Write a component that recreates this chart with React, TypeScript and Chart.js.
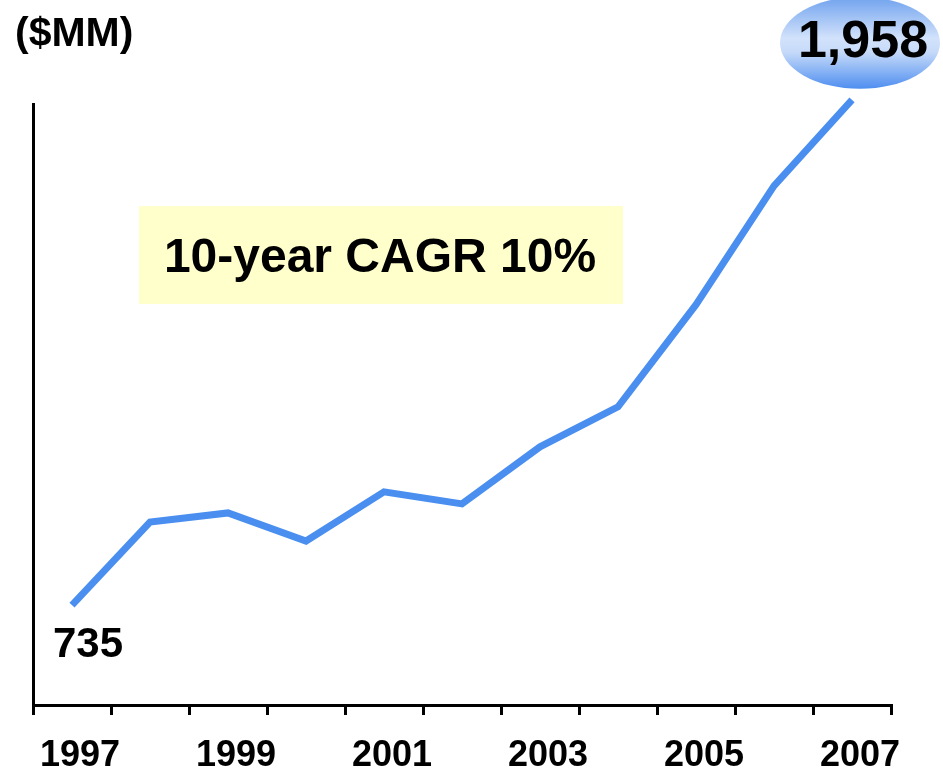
import React, { useEffect, useRef } from 'react';
import { Chart, registerables } from 'chart.js';

Chart.register(...registerables);

const years = ['1997', '1998', '1999', '2000', '2001', '2002', '2003', '2004', '2005', '2006', '2007'];
const revenue = [735, 936, 958, 890, 1009, 980, 1118, 1215, 1462, 1750, 1958];
const unitLabel = '($MM)';
const cagrLabel = '10-year CAGR 10%';

const FONT = '"Liberation Sans", Arial, Helvetica, sans-serif';
const LINE_COLOR = '#4A8FF0';

const annotations = {
  id: 'annotations',
  beforeDatasetsDraw(chart: any) {
    const ctx = chart.ctx;
    ctx.save();
    ctx.fillStyle = '#FFFFCC';
    ctx.fillRect(139, 206, 484, 98);
    ctx.restore();
  },
  afterDraw(chart: any) {
    const ctx = chart.ctx;
    const pts = chart.getDatasetMeta(0).data;
    const first = pts[0];
    const last = pts[pts.length - 1];
    ctx.save();
    ctx.fillStyle = '#000';
    ctx.textBaseline = 'alphabetic';

    // unit label
    ctx.textAlign = 'left';
    ctx.font = `bold 41px ${FONT}`;
    ctx.fillText(unitLabel, 15, 46);

    // CAGR text
    ctx.textAlign = 'center';
    ctx.font = `bold 48px ${FONT}`;
    ctx.fillText(cagrLabel, 380, 272);

    // start value
    ctx.textAlign = 'left';
    ctx.font = `bold 42px ${FONT}`;
    ctx.fillText(revenue[0].toLocaleString('en-US'), first.x - 19, first.y + 52);

    // end value bubble
    const cx = last.x + 8;
    const cy = last.y - 57;
    const grad = ctx.createLinearGradient(0, cy - 46, 0, cy + 46);
    grad.addColorStop(0, '#6FA2EE');
    grad.addColorStop(0.45, '#D2E2FB');
    grad.addColorStop(0.6, '#C6DAF9');
    grad.addColorStop(1, '#4E8EF0');
    ctx.fillStyle = grad;
    ctx.beginPath();
    ctx.ellipse(cx, cy, 80, 46, 0, 0, Math.PI * 2);
    ctx.fill();

    ctx.fillStyle = '#000';
    ctx.textAlign = 'center';
    ctx.font = `bold 52px ${FONT}`;
    ctx.fillText(revenue[revenue.length - 1].toLocaleString('en-US'), cx + 3, cy + 14);
    ctx.restore();
  },
};

export default function App() {
  const canvasRef = useRef<HTMLCanvasElement>(null);

  useEffect(() => {
    const canvas = canvasRef.current;
    if (!canvas) return;
    const chart = new Chart(canvas, {
      type: 'line',
      data: {
        labels: years,
        datasets: [
          {
            data: revenue,
            borderColor: LINE_COLOR,
            borderWidth: 7,
            pointRadius: 0,
            pointHoverRadius: 0,
            tension: 0,
            borderCapStyle: 'butt',
            borderJoinStyle: 'miter',
            clip: false,
            fill: false,
          },
        ],
      },
      options: {
        animation: false,
        responsive: false,
        events: [],
        layout: { padding: { left: 33, right: 52, top: 104, bottom: 0 } },
        plugins: { legend: { display: false }, tooltip: { enabled: false } },
        scales: {
          x: {
            offset: true,
            grid: {
              offset: true,
              drawOnChartArea: false,
              drawTicks: true,
              tickLength: 10,
              lineWidth: 3,
              color: '#000',
            },
            border: { display: true, width: 3, color: '#000' },
            ticks: {
              autoSkip: false,
              maxRotation: 0,
              color: '#000',
              font: { family: FONT, size: 36, weight: 'bold' },
              padding: 19,
              labelOffset: 8,
              callback: (_v: any, i: number) => (i % 2 === 0 ? years[i] : ''),
            },
            afterFit: (scale: any) => {
              scale.height = 68;
            },
          },
          y: {
            min: 493,
            max: 1948,
            grid: { display: false, drawTicks: false },
            border: { display: true, width: 3, color: '#000' },
            ticks: { display: false },
            afterFit: (scale: any) => {
              scale.width = 0;
            },
          },
        },
      },
      plugins: [annotations],
    });
    return () => chart.destroy();
  }, []);

  return (
    <div style={{ position: 'fixed', left: 0, top: 0, width: 943, height: 773, background: '#fff' }}>
      <canvas ref={canvasRef} width={943} height={773} style={{ display: 'block', width: 943, height: 773 }} />
    </div>
  );
}
